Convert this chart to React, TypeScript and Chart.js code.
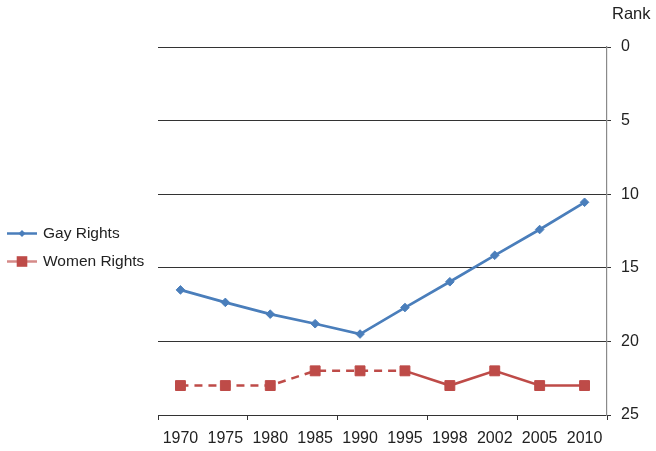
import React, { useEffect, useRef } from "react";
import { Chart, registerables } from "chart.js";

Chart.register(...registerables);

const years = ["1970", "1975", "1980", "1985", "1990", "1995", "1998", "2002", "2005", "2010"];
const gayRights = [16.5, 17.35, 18.15, 18.8, 19.5, 17.7, 15.95, 14.15, 12.4, 10.55];
const womenRights = [23, 23, 23, 22, 22, 22, 23, 22, 23, 23];
const womenDashedUntil = 5; // segments before this index are dashed
const rankTicks = [0, 5, 10, 15, 20, 25];
const seriesNames = ["Gay Rights", "Women Rights"];

const BLUE = "#4A7EBB";
const RED = "#BE4B48";
const FONT = "'Liberation Sans', Arial, Helvetica, sans-serif";

const extrasPlugin = {
  id: "extras",
  afterDraw(chart: any) {
    const ctx = chart.ctx;
    ctx.save();
    // axis title "Rank"
    ctx.fillStyle = "#222";
    ctx.font = `16.5px ${FONT}`;
    ctx.textAlign = "left";
    ctx.textBaseline = "middle";
    ctx.fillText("Rank", 612, 14);

    // legend
    const items = [
      { name: seriesNames[0], color: BLUE, y: 233.5, marker: "diamond" },
      { name: seriesNames[1], color: RED, y: 261.5, marker: "square" },
    ];
    items.forEach((it) => {
      ctx.strokeStyle = it.marker === "square" ? "rgba(190,75,72,0.65)" : it.color;
      ctx.lineWidth = 2.5;
      ctx.beginPath();
      ctx.moveTo(7, it.y);
      ctx.lineTo(37, it.y);
      ctx.stroke();
      ctx.fillStyle = it.color;
      ctx.beginPath();
      if (it.marker === "diamond") {
        ctx.moveTo(22 - 3.5, it.y);
        ctx.lineTo(22, it.y - 3.5);
        ctx.lineTo(22 + 3.5, it.y);
        ctx.lineTo(22, it.y + 3.5);
        ctx.closePath();
      } else {
        ctx.rect(22 - 5.3, it.y - 5.3, 10.6, 10.6);
      }
      ctx.fill();
      ctx.fillStyle = "#222";
      ctx.font = `15.5px ${FONT}`;
      ctx.textAlign = "left";
      ctx.textBaseline = "middle";
      ctx.fillText(it.name, 43, it.y + 0.5);
    });
    ctx.restore();
  },
};

export default function App() {
  const ref = useRef<HTMLCanvasElement | null>(null);

  useEffect(() => {
    if (!ref.current) return;
    Chart.defaults.font.family = FONT;
    const chart = new Chart(ref.current, {
      type: "line",
      data: {
        labels: years,
        datasets: [
          {
            label: seriesNames[0],
            data: gayRights,
            borderColor: BLUE,
            backgroundColor: BLUE,
            borderWidth: 2.7,
            pointStyle: "rectRot",
            pointRadius: 4.3,
            pointBorderWidth: 1,
            pointBackgroundColor: BLUE,
            pointBorderColor: BLUE,
            tension: 0,
          },
          {
            label: seriesNames[1],
            data: womenRights,
            borderColor: RED,
            backgroundColor: RED,
            borderWidth: 2.5,
            pointStyle: "rect",
            pointRadius: 7,
            pointBorderWidth: 1,
            pointBackgroundColor: RED,
            pointBorderColor: RED,
            tension: 0,
            segment: {
              borderDash: (c: any) => (c.p0DataIndex < womenDashedUntil ? [8, 6] : undefined),
            },
          },
        ],
      },
      plugins: [extrasPlugin],
      options: {
        animation: false,
        responsive: true,
        maintainAspectRatio: false,
        layout: { padding: { left: 158, top: 47, right: 0, bottom: 0 } },
        plugins: {
          legend: { display: false },
          tooltip: { enabled: false },
          title: { display: false },
        },
        scales: {
          x: {
            type: "category",
            offset: true,
            grid: {
              drawOnChartArea: false,
              drawTicks: true,
              tickLength: 5,
              offset: true,
              color: (c: any) => (c.type !== "tick" || c.index % 2 === 0 ? "#333" : "rgba(0,0,0,0)"),
            },
            border: { display: true, color: "#333", width: 1 },
            ticks: {
              color: "#222",
              font: { size: 16 },
              padding: 9,
              maxRotation: 0,
              autoSkip: false,
            },
            afterFit: (s: any) => {
              s.height = 36;
            },
          },
          y: {
            position: "right",
            reverse: true,
            min: 0,
            max: 25,
            afterBuildTicks: (s: any) => {
              s.ticks = rankTicks.map((v) => ({ value: v }));
            },
            grid: {
              color: "#333",
              lineWidth: 1,
              drawTicks: true,
              tickLength: 4,
            },
            border: { display: true, color: "#8a8a8a", width: 1.2 },
            ticks: {
              color: "#222",
              font: { size: 16 },
              padding: 10,
            },
            afterFit: (s: any) => {
              s.width = 49;
            },
          },
        },
      },
    });
    return () => chart.destroy();
  }, []);

  return (
    <div style={{ position: "fixed", left: 0, top: 0, width: 656, height: 451, background: "#fff" }}>
      <canvas ref={ref} />
    </div>
  );
}
